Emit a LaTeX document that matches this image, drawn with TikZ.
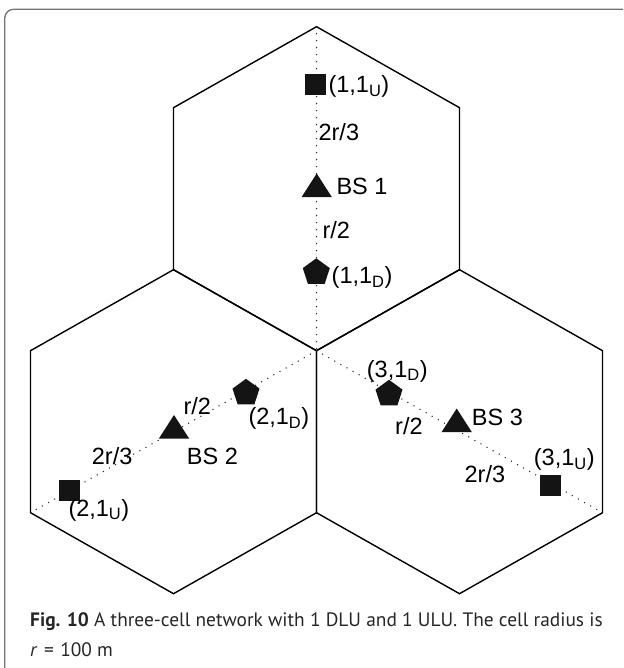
\documentclass[tikz,border=0pt]{standalone}
\usepackage{fontspec}
\setmainfont{Liberation Sans}
\newfontfamily\capfont{PT Sans}
\usetikzlibrary{shapes.geometric}
\begin{document}
\begin{tikzpicture}[x=1pt,y=-1pt,
  cell/.style={line width=1.4pt, line join=miter},
  axisline/.style={line width=1.5pt, line cap=round, dash pattern=on 0pt off 7pt, black!85},
  mk/.style={fill=black!92},
  sq/.style={rectangle, fill=black!92, minimum size=21pt, inner sep=0pt},
  pent/.style={regular polygon, regular polygon sides=5, fill=black!92, minimum size=28.4pt, inner sep=0pt},
  lab/.style={anchor=base west, inner sep=0pt, font=\fontsize{23.5}{28}\selectfont},
  captext/.style={anchor=base west, inner sep=0pt, font=\capfont\fontsize{19.4}{23}\selectfont, text=black!85},
  frm/.style={draw=black!55, line width=1.3pt},
]
\useasboundingbox (0,0) rectangle (623,668);
% frame
\draw[frm] (4.8,668) -- (4.8,18) arc[start angle=180, end angle=270, radius=8.7] -- (623,9.3);

% hexagon vertices
\coordinate (J) at (316.5,350.7);
% top cell
\coordinate (Tt) at (316.5,26.7);
\coordinate (Tur) at (459.5,107.7);
\coordinate (Tlr) at (459.5,269.7);
\coordinate (Tll) at (173.5,269.7);
\coordinate (Tul) at (173.5,107.7);
% left cell
\coordinate (Llr) at (316.5,512.7);
\coordinate (Lb) at (173.5,593.7);
\coordinate (Lll) at (30.5,512.7);
\coordinate (Lul) at (30.5,350.7);
% right cell
\coordinate (Rb) at (459.5,593.7);
\coordinate (Rlr) at (602.5,512.7);
\coordinate (Rur) at (602.5,350.7);

\draw[cell] (Tt) -- (Tur) -- (Tlr) -- (J) -- (Tll) -- (Tul) -- cycle;
\draw[cell] (Tll) -- (J) -- (Llr) -- (Lb) -- (Lll) -- (Lul) -- cycle;
\draw[cell] (Tlr) -- (Rur) -- (Rlr) -- (Rb) -- (Llr) -- (J) -- cycle;

% dotted axes
\draw[axisline] (Tt) -- (J);
\draw[axisline] (J) -- (Lll);
\draw[axisline] (J) -- (Rlr);

% markers: top cell
\node[sq] (u1) at (315.5,85) {};
\coordinate (bs1) at (316.7,189);
\fill[mk] (bs1) +(0,-15.5) -- +(15.2,8.2) -- +(-15.2,8.2) -- cycle;
\node[pent] (d1) at (316.3,272.5) {};
% left cell
\node[sq] (u2) at (69.5,490) {};
\coordinate (bs2) at (174,430.5);
\fill[mk] (bs2) +(0,-15.5) -- +(15.2,8.2) -- +(-15.2,8.2) -- cycle;
\node[pent] (d2) at (246,393) {};
% right cell
\node[sq] (u3) at (550.5,485) {};
\coordinate (bs3) at (456.7,424);
\fill[mk] (bs3) +(0,-15.5) -- +(15.2,8.2) -- +(-15.2,8.2) -- cycle;
\node[pent] (d3) at (389,394) {};

% labels
\node[lab] (lu1) at (328.3,92.5) {(1,1\textsubscript{U})};
\node[lab] (lt1) at (318.4,140.3) {2r/3};
\node[lab] (lb1) at (336.3,195) {BS 1};
\node[lab] (lh1) at (322.3,238.4) {r/2};
\node[lab] (ld1) at (331.5,283.5) {(1,1\textsubscript{D})};

\node[lab] (lh2) at (183.3,414.3) {r/2};
\node[lab] (ld2) at (248.3,424.5) {(2,1\textsubscript{D})};
\node[lab] (lt2) at (91.7,464.1) {2r/3};
\node[lab] (lb2) at (186.7,464.3) {BS 2};
\node[lab] (lu2) at (68.3,516.2) {(2,1\textsubscript{U})};

\node[lab] (ld3) at (366.7,377.2) {(3,1\textsubscript{D})};
\node[lab] (lh3) at (395,434.3) {r/2};
\node[lab] (lb3) at (471.7,425.6) {BS 3};
\node[lab] (lt3) at (464.4,482.6) {2r/3};
\node[lab] (lu3) at (533.7,465.9) {(3,1\textsubscript{U})};

% caption
\node[captext] (cap1) at (30,626) {\textbf{Fig. 10} A three-cell network with 1 DLU and 1 ULU. The cell radius is};
\node[captext] (cap2) at (30,656.5) {\textit{r}\,\,=\,\,100 m};
\end{tikzpicture}
\end{document}
